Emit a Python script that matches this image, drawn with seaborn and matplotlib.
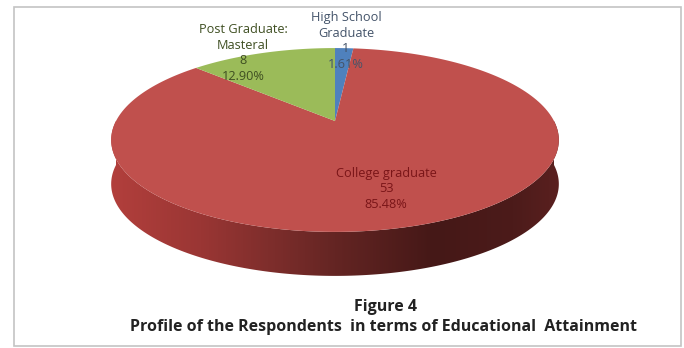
import numpy as np
import matplotlib
matplotlib.use("Agg")
import matplotlib.pyplot as plt
from matplotlib.colors import LinearSegmentedColormap
from matplotlib.patches import Polygon, Rectangle
import seaborn as sns

# Educational attainment of the respondents
categories = ["High School\nGraduate", "College graduate", "Post Graduate:\nMasteral"]
counts = [1, 53, 8]
percent_labels = ["1.61%", "85.48%", "12.90%"]
slice_colors = ["#4f81bd", "#c0504d", "#9bbb59"]
figure_title = "Figure 4"
figure_subtitle = "Profile of the Respondents  in terms of Educational  Attainment"

sns.set_theme(style="white")
plt.rcParams["font.family"] = ["Open Sans", "DejaVu Sans"]

fig = plt.figure(figsize=(6.84, 3.48), dpi=100)
ax = fig.add_axes([0, 0, 1, 1])

# Tilted disc: unit circle seen in perspective, placed in pixel space
CX, CY = 335.0, 121.0
A, B, K = 219.0, 88.0, 0.2065
DEPTH = 44.0


def project(theta_deg):
    t = np.radians(theta_deg)
    x, y = np.cos(t), np.sin(t)
    d = 1 + K * y
    return CX + A * x / d, CY - B * y / d


# ax.pie supplies the slice angles from the counts
wedges, _ = ax.pie(counts, startangle=90, counterclock=False, radius=1)
angles = [(w.theta1, w.theta2) for w in wedges]
for w in wedges:
    w.remove()

ax.set_aspect("auto")
ax.set_xlim(0, 684)
ax.set_ylim(348, 0)
ax.axis("off")

# Rim of the disc, shaded from left to right
rim_t = np.linspace(180, 360, 240)
rx, ry = project(rim_t)
rim = np.column_stack([np.r_[rx, rx[::-1]], np.r_[ry, ry[::-1] + DEPTH]])
rim_patch = Polygon(rim, closed=True, facecolor="none", edgecolor="none")
ax.add_patch(rim_patch)
rim_cmap = LinearSegmentedColormap.from_list(
    "rim",
    [(0.0, "#b23f3c"), (0.2, "#9a3634"), (0.35, "#7f2e2c"), (0.5, "#642523"),
     (0.72, "#451817"), (0.9, "#4c1b1a"), (1.0, "#5a201f")],
)
grad = ax.imshow(np.linspace(0, 1, 256)[None, :], cmap=rim_cmap, aspect="auto",
                 extent=(rx.min(), rx.max(), 348, 0), zorder=1)
grad.set_clip_path(rim_patch)
ax.set_xlim(0, 684)
ax.set_ylim(348, 0)

# Top face of each slice
for (t1, t2), color in zip(angles, slice_colors):
    px, py = project(np.linspace(t1, t2, 200))
    pts = np.column_stack([np.r_[CX, px], np.r_[CY, py]])
    ax.add_patch(Polygon(pts, closed=True, facecolor=color, edgecolor="none", zorder=2))

# Data labels: name, count, share
label_pos = [(346, 41), (386, 189), (243, 53)]
label_colors = ["#44546a", "#7a1518", "#3f4f22"]
for name, n, pct, (lx, ly), col in zip(categories, counts, percent_labels, label_pos, label_colors):
    ax.text(lx, ly, f"{name}\n{n}\n{pct}", ha="center", va="center", fontsize=9.2,
            color=col, linespacing=1.27, zorder=3)

# Caption below the disc
ax.text(385, 307, figure_title, ha="center", va="center", fontsize=11.5,
        fontweight="bold", color="#222222")
ax.text(384, 327, figure_subtitle, ha="center", va="center", fontsize=11.5,
        fontweight="bold", color="#222222")

# Thin grey frame around the chart
ax.add_patch(Rectangle((14, 7), 667, 339, facecolor="none", edgecolor="#c4c4c4", linewidth=1.2, zorder=0))

fig.savefig("out.png", dpi=100)
